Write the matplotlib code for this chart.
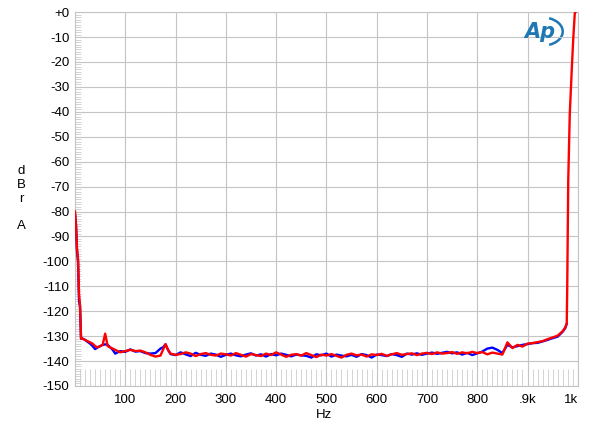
import numpy as np
import matplotlib
matplotlib.use("Agg")
import matplotlib.pyplot as plt
from matplotlib.patches import Arc

plt.rcParams['font.family'] = ['Liberation Sans', 'DejaVu Sans']

# Data

freq = [0, 2, 4, 6, 8, 10, 12, 15, 20, 25, 30, 35, 40, 45, 50, 55, 60, 65, 70, 75, 80,
        90, 100, 110, 120, 130, 140, 150, 160, 170, 175, 180, 185,
        190, 200, 210, 220, 230, 240, 250, 260, 270, 280, 290, 300, 310, 320, 330, 340,
        350, 360, 370, 380, 390, 400, 410, 420, 430, 440, 450, 460, 470, 480, 490, 500,
        510, 520, 530, 540, 550, 560, 570, 580, 590, 600, 610, 620, 630, 640, 650, 660,
        670, 680, 690, 700, 710, 720, 730, 740, 750, 760, 770, 780, 790, 800, 810, 820,
        830, 840, 850, 860, 870, 880, 890, 900, 910, 920, 930, 940, 950, 960, 970, 975, 978]

blue = [-81, -85, -96, -100, -116, -118, -131, -131, -131.5, -132.3, -133, -134, -135.2, -134.5,
        -134, -133.5, -133.3, -133.5, -134.5, -135.5, -137,
        -136, -136.3, -135.3, -136.2, -136, -136.8, -137, -136.8, -135, -134.5, -133.3, -135.5,
        -137.2, -137.6, -136.5, -137.3, -138, -136.7, -137.5, -137.9, -137.0, -137.4, -138.3,
        -137.5, -137.0, -137.7, -138.1, -137.4,
        -136.9, -137.8, -137.3, -138.2, -137.2, -137.7, -137.0, -137.5, -138.1, -137.4, -137.7,
        -137.9, -138.6, -137.3, -137.7, -137.0,
        -138.2, -137.4, -137.8, -138.1, -137.5, -138.3, -137.2, -137.6, -138.6, -137.4, -137.6,
        -138.0, -137.2, -137.6, -138.3, -137.0,
        -137.4, -136.9, -137.5, -137.0, -136.6, -137.1, -136.7, -136.3, -136.9, -136.5, -137.4,
        -136.7, -137.6, -136.9, -136.2, -135.0,
        -134.6, -135.5, -136.8, -133.5, -134.5, -134.0, -133.5, -133.2, -132.8, -132.7, -132.1,
        -131.5, -130.8, -130.2, -128.2, -126.8, -125]

red = [-80, -86, -95, -99, -113, -118, -131, -131, -131.5, -132, -132.5, -133, -134, -134.5,
       -134, -133.5, -129, -134, -134.5, -135, -135.5,
       -136.5, -136, -135.5, -136, -135.8, -136.5, -137.5, -138.2, -137.8, -135.5, -133.2, -135.5,
       -137, -137.5, -137.2, -136.5, -137, -138, -137.2, -136.8, -137.5, -137.8, -137,
       -137.3, -137.8, -136.8, -137.5, -138.2,
       -137.2, -137.6, -138.0, -137, -137.6, -136.5, -137.4, -138.3, -137.5, -137.2, -137.8,
       -136.8, -137.6, -138.4, -137.4, -137.8,
       -137.2, -137.9, -138.6, -137.5, -137.0, -137.7, -137.4, -138.2, -137.3, -137.6, -137.1,
       -137.9, -137.3, -136.8, -137.5, -137.2,
       -136.9, -137.6, -137.0, -136.7, -137.2, -136.5, -137.0, -136.8, -136.4, -137.1, -136.5,
       -136.9, -136.3, -136.8, -136.4, -137.3,
       -136.6, -137.0, -137.4, -132.5, -134.8, -133.5, -134.2, -133.0, -132.8, -132.4, -132.0,
       -131.2, -130.5, -129.8, -128.0, -126.5, -125]

# red continues past the band edge
freq_tail = [979, 981, 984, 988, 991, 994, 997, 1000]
red_tail = [-110, -67.5, -41, -23, -10.5, -0.5, 0.5, 1]

yticks = np.arange(-150, 1, 10)
ytick_labels = [f"{v}" if v != 0 else "+0" for v in yticks]
xticks = [100, 200, 300, 400, 500, 600, 700, 800, 900, 1000]
xtick_labels = ['100', '200', '300', '400', '500', '600', '700', '800', '.9k', '1k']

# Plot

fig = plt.figure(figsize=(6, 4.32), dpi=100)
ax = fig.add_axes([0.125, 0.1065, 0.838, 0.8655])

grid_c = '#c4c4c4'
ax.plot(freq, blue, color='#0000ff', lw=1.7, zorder=3)
ax.plot(freq + freq_tail, red + red_tail, color='#ff0000', lw=1.7, zorder=4)

ax.set_xlim(0, 1000)
ax.set_ylim(-150, 0)
ax.set_yticks(yticks)
ax.set_yticklabels(ytick_labels)
ax.set_xticks(xticks)
ax.set_xticklabels(xtick_labels)
ax.set_yticks(np.arange(-150, 0, 1), minor=True)
ax.set_xticks(np.arange(10, 1000, 10), minor=True)

ax.grid(True, which='major', color=grid_c, lw=0.8)
for s in ax.spines.values():
    s.set_color(grid_c)
    s.set_linewidth(0.8)

ax.tick_params(axis='both', which='major', length=0, labelsize=9.5, colors='black', pad=4)
ax.tick_params(axis='x', which='major', pad=6)
ax.tick_params(axis='y', which='minor', direction='in', length=4, color='#cccccc', width=0.6)
ax.tick_params(axis='x', which='minor', direction='in', length=12, color='#cccccc', width=0.6)
ax.get_xticklabels()[-1].set_horizontalalignment('right')

fig.text(0.035, 0.54, 'd\nB\nr\n\nA', ha='center', va='center', fontsize=9.5, linespacing=1.2)
fig.text(0.54, 0.04, 'Hz', ha='center', va='center', fontsize=9.5)

# Ap logo
ax.text(0.925, 0.948, 'Ap', transform=ax.transAxes, fontsize=15, style='italic',
        weight='bold', color='#1e78b4', ha='center', va='center', family='DejaVu Sans')
ax.add_patch(Arc((0.93, 0.948), 0.08, 0.075, theta1=-70, theta2=70, transform=ax.transAxes,
                 color='#1e78b4', lw=1.8))

fig.savefig('out.png', dpi=100)
